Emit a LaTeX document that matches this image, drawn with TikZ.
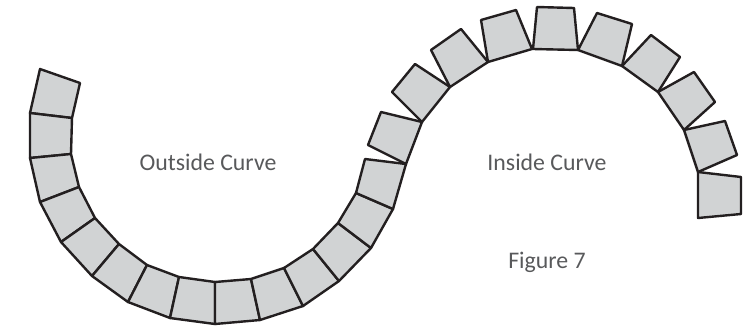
\documentclass[tikz,border=0pt]{standalone}
\usepackage{fontspec}
\setmainfont{Carlito}
\definecolor{tilefill}{HTML}{D1D3D4}
\definecolor{tileline}{HTML}{231F20}
\definecolor{labelgray}{HTML}{58595B}
\tikzset{
  tile/.style={draw=tileline,fill=tilefill,line width=2.4pt,line join=round},
  caption/.style={text=labelgray,font=\fontsize{23.8}{26}\selectfont,inner sep=0pt}
}
\begin{document}
\begin{tikzpicture}[x=1pt,y=-1pt]
\useasboundingbox (0,0) rectangle (743,330);
% left (outside) curve
\draw[tile] (40,69) -- (80,83) -- (72,118) -- (30,113) -- cycle;
\draw[tile] (30,113) -- (72,118) -- (71,154) -- (30,158) -- cycle;
\draw[tile] (30,158) -- (71,154) -- (79,187) -- (40,202) -- cycle;
\draw[tile] (40,202) -- (79,187) -- (95,218) -- (61,242) -- cycle;
\draw[tile] (61,242) -- (95,218) -- (119,244) -- (92,276) -- cycle;
\draw[tile] (92,276) -- (119,244) -- (147,265) -- (128,302) -- cycle;
\draw[tile] (128,302) -- (147,265) -- (179,277) -- (170,318) -- cycle;
\draw[tile] (170,318) -- (179,277) -- (215,282) -- (215,324) -- cycle;
\draw[tile] (215,324) -- (215,282) -- (251,279) -- (260,320) -- cycle;
\draw[tile] (260,320) -- (251,279) -- (284,268) -- (303,306) -- cycle;
\draw[tile] (303,306) -- (284,268) -- (313,249) -- (339,281) -- cycle;
\draw[tile] (339,281) -- (313,249) -- (338,223) -- (371,248) -- cycle;
\draw[tile] (371,248) -- (338,223) -- (356,193) -- (393,209) -- cycle;
% right (inside) curve
\draw[tile] (356,193) -- (365,159) -- (406,164) -- (393,209) -- cycle;
\draw[tile] (368,145) -- (381,112) -- (422,122) -- (406,164) -- cycle;
\draw[tile] (392,92) -- (415,64) -- (450,87) -- (422,122) -- cycle;
\draw[tile] (431,50) -- (461,29) -- (488,62) -- (450,87) -- cycle;
\draw[tile] (481,20) -- (516,10) -- (532,49) -- (488,62) -- cycle;
\draw[tile] (533,49) -- (537,7) -- (574,8) -- (578,50) -- cycle;
\draw[tile] (578,50) -- (597,13) -- (632,24) -- (622,66) -- cycle;
\draw[tile] (622,66) -- (651,35) -- (680,57) -- (658,92) -- cycle;
\draw[tile] (658,92) -- (694,72) -- (715,102) -- (684,130) -- cycle;
\draw[tile] (684,130) -- (725,121) -- (737,155) -- (698,172) -- cycle;
\draw[tile] (698,172) -- (741,177) -- (741,214) -- (698,218) -- cycle;
% labels
\node[caption] (outside) at (208,162) {Outside Curve};
\node[caption] (inside) at (547,162) {Inside Curve};
\node[caption] (figure) at (547,262) {Figure 7};
\end{tikzpicture}
\end{document}
